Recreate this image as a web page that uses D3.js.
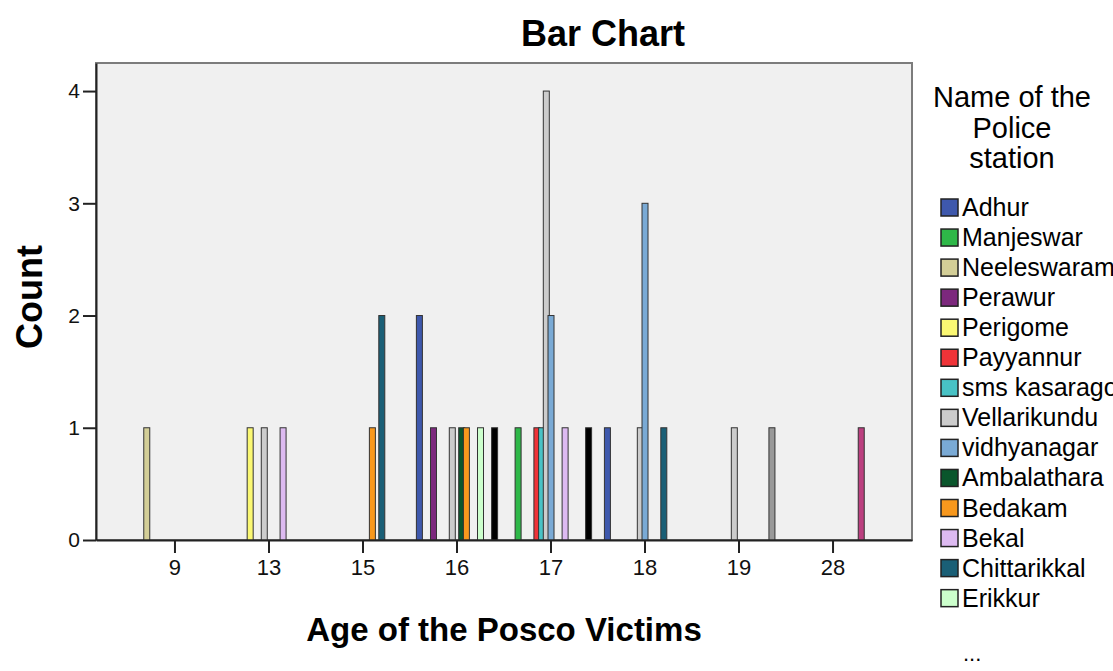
<!DOCTYPE html>
<html>
<head>
<meta charset="utf-8">
<script src="https://cdn.jsdelivr.net/npm/d3@7"></script>
<style>
  body { margin: 0; background: #fff; }
  svg { display: block; font-family: "Liberation Sans", Arial, sans-serif; }
</style>
</head>
<body>
<svg></svg>
<script>
const ages = ["9", "13", "15", "16", "17", "18", "19", "28"];

const stations = ["Adhur", "Manjeswar", "Neeleswaram", "Perawur", "Perigome", "Payyannur",
  "sms kasaragod", "Vellarikundu", "vidhyanagar", "Ambalathara", "Bedakam", "Bekal",
  "Chittarikkal", "Erikkur", "Station 15", "Station 16", "Station 17"];

const stationColors = ["#3E58AC", "#2EB848", "#D3CE97", "#7C287D", "#FBF873", "#EF3338",
  "#48C2C5", "#CCCCCC", "#7AAAD5", "#0A562C", "#F8981D", "#DDBAF1",
  "#1A5F76", "#CCFFCC", "#BB3F7F", "#999999", "#000000"];

// counts per age, one value per station (same order as stations)
const age9  = [0,0,1,0,0,0,0,0,0,0,0,0,0,0,0,0,0];
const age13 = [0,0,0,0,1,0,0,1,0,0,0,1,0,0,0,0,0];
const age15 = [0,0,0,0,0,0,0,0,0,0,1,0,2,0,0,0,0];
const age16 = [2,0,0,1,0,0,0,1,0,1,1,0,0,1,0,0,1];
const age17 = [0,1,0,0,0,1,1,4,2,0,0,1,0,0,0,0,1];
const age18 = [1,0,0,0,0,0,0,1,3,0,0,0,1,0,0,0,0];
const age19 = [0,0,0,0,0,0,0,1,0,0,0,0,0,0,0,1,0];
const age28 = [0,0,0,0,0,0,0,0,0,0,0,0,0,0,1,0,0];
const counts = [age9, age13, age15, age16, age17, age18, age19, age28];

const yTicks = [0, 1, 2, 3, 4];

const W = 1113, H = 671;
const plot = { left: 96, right: 912, top: 63, bottom: 540 };

const svg = d3.select("svg").attr("width", W).attr("height", H);

// flat list of bars
const bars = [];
counts.forEach((row, a) => row.forEach((v, s) => {
  if (v > 0) bars.push({ age: ages[a], station: s, value: v });
}));

const x0 = d3.scaleBand()
  .domain(ages)
  .range([plot.left, plot.right])
  .paddingInner(0.15)
  .paddingOuter(0.415);

const x1 = d3.scaleBand()
  .domain(d3.range(stations.length))
  .range([0, x0.bandwidth()]);

const y = d3.scaleLinear()
  .domain([0, 4.25])
  .range([plot.bottom, plot.top]);

// plot background and frame
svg.append("rect")
  .attr("x", plot.left).attr("y", plot.top)
  .attr("width", plot.right - plot.left).attr("height", plot.bottom - plot.top)
  .attr("fill", "#f0f0f0")
  .attr("stroke", "#7c7c7c")
  .attr("stroke-width", 2);

// bars
const barW = 6;
svg.append("g")
  .selectAll("rect")
  .data(bars)
  .join("rect")
  .attr("x", d => x0(d.age) + x1(d.station) + x1.bandwidth() / 2 - barW / 2)
  .attr("y", d => y(d.value))
  .attr("width", barW)
  .attr("height", d => y(0) - y(d.value))
  .attr("fill", d => stationColors[d.station])
  .attr("stroke", "#333")
  .attr("stroke-width", 1);

// axes
const xAxis = d3.axisBottom(x0).tickSize(13).tickPadding(6).tickSizeOuter(0);
const yAxis = d3.axisLeft(y).tickValues(yTicks).tickFormat(d3.format("d"))
  .tickSize(13).tickPadding(3).tickSizeOuter(0);

const gx = svg.append("g")
  .attr("transform", `translate(0,${plot.bottom})`)
  .call(xAxis);
gx.select(".domain").attr("stroke", "#222").attr("stroke-width", 2);
gx.selectAll(".tick line").attr("stroke", "#222").attr("stroke-width", 2);
gx.selectAll(".tick text").attr("font-size", 22).attr("fill", "#111")
  .attr("font-family", "Liberation Sans, Arial, sans-serif");

const gy = svg.append("g")
  .attr("transform", `translate(${plot.left},0)`)
  .call(yAxis);
gy.select(".domain").attr("stroke", "#222").attr("stroke-width", 2);
gy.selectAll(".tick line").attr("stroke", "#222").attr("stroke-width", 2);
gy.selectAll(".tick text").attr("font-size", 21).attr("fill", "#111")
  .attr("font-family", "Liberation Sans, Arial, sans-serif");

// titles
svg.append("text")
  .attr("x", 603).attr("y", 46)
  .attr("text-anchor", "middle")
  .attr("font-size", 36).attr("font-weight", "bold")
  .text("Bar Chart");

svg.append("text")
  .attr("x", 504).attr("y", 641)
  .attr("text-anchor", "middle")
  .attr("font-size", 33).attr("font-weight", "bold")
  .text("Age of the Posco Victims");

svg.append("text")
  .attr("transform", "translate(42,297) rotate(-90)")
  .attr("text-anchor", "middle")
  .attr("font-size", 36).attr("font-weight", "bold")
  .text("Count");

// legend
const legend = svg.append("g");
legend.selectAll("text.ltitle")
  .data(["Name of the", "Police", "station"])
  .join("text")
  .attr("class", "ltitle")
  .attr("x", 1012).attr("y", (d, i) => 107 + i * 30.5)
  .attr("text-anchor", "middle")
  .attr("font-size", 29)
  .text(d => d);

const shown = stations.slice(0, 14);
const items = legend.selectAll("g.item")
  .data(shown)
  .join("g")
  .attr("class", "item")
  .attr("transform", (d, i) => `translate(941,${199 + i * 30.05})`);

items.append("rect")
  .attr("width", 17).attr("height", 17)
  .attr("fill", (d, i) => stationColors[i])
  .attr("stroke", "#222").attr("stroke-width", 1.5);

items.append("text")
  .attr("x", 21).attr("y", 17)
  .attr("font-size", 25)
  .text(d => d);

legend.append("text")
  .attr("x", 963).attr("y", 661)
  .attr("font-size", 22)
  .text("...");
</script>
</body>
</html>
